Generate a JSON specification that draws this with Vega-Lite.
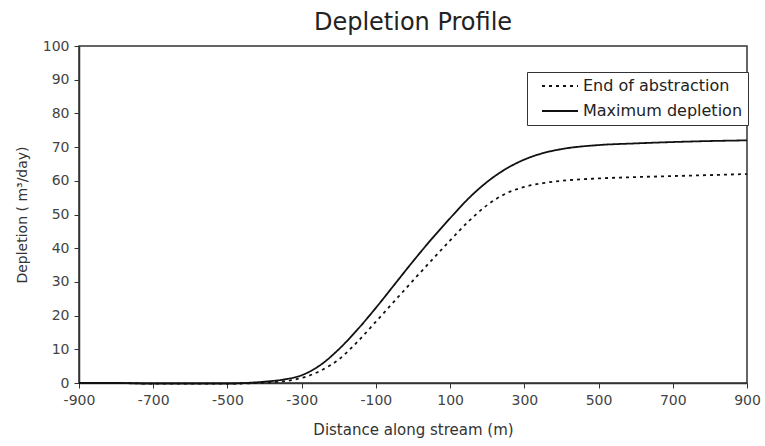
{
  "$schema": "https://vega.github.io/schema/vega-lite/v6.json",
  "autosize": {"type": "none"},
  "width": 668,
  "height": 337,
  "padding": {"left": 79, "top": 46, "right": 18, "bottom": 63},
  "background": "white",
  "config": {
    "font": "DejaVu Sans",
    "view": {"stroke": "#333", "strokeWidth": 1.5}
  },
  "title": {
    "text": "Depletion Profile",
    "font": "DejaVu Sans",
    "fontSize": 24,
    "fontWeight": "normal",
    "color": "#222",
    "anchor": "middle",
    "offset": 4
  },
  "data": {
    "values": [
      {"d": -900, "v": 0, "s": "Maximum depletion"},
      {"d": -800, "v": 0, "s": "Maximum depletion"},
      {"d": -700, "v": -0.2, "s": "Maximum depletion"},
      {"d": -600, "v": -0.2, "s": "Maximum depletion"},
      {"d": -500, "v": -0.2, "s": "Maximum depletion"},
      {"d": -450, "v": 0, "s": "Maximum depletion"},
      {"d": -400, "v": 0.4, "s": "Maximum depletion"},
      {"d": -350, "v": 1.0, "s": "Maximum depletion"},
      {"d": -300, "v": 2.3, "s": "Maximum depletion"},
      {"d": -250, "v": 5.3, "s": "Maximum depletion"},
      {"d": -200, "v": 10, "s": "Maximum depletion"},
      {"d": -150, "v": 15.8, "s": "Maximum depletion"},
      {"d": -100, "v": 22.3, "s": "Maximum depletion"},
      {"d": -50, "v": 29.2, "s": "Maximum depletion"},
      {"d": 0, "v": 36.1, "s": "Maximum depletion"},
      {"d": 50, "v": 42.7, "s": "Maximum depletion"},
      {"d": 100, "v": 48.9, "s": "Maximum depletion"},
      {"d": 150, "v": 54.8, "s": "Maximum depletion"},
      {"d": 200, "v": 59.7, "s": "Maximum depletion"},
      {"d": 250, "v": 63.5, "s": "Maximum depletion"},
      {"d": 300, "v": 66.3, "s": "Maximum depletion"},
      {"d": 350, "v": 68.2, "s": "Maximum depletion"},
      {"d": 400, "v": 69.4, "s": "Maximum depletion"},
      {"d": 500, "v": 70.6, "s": "Maximum depletion"},
      {"d": 600, "v": 71.1, "s": "Maximum depletion"},
      {"d": 700, "v": 71.5, "s": "Maximum depletion"},
      {"d": 800, "v": 71.8, "s": "Maximum depletion"},
      {"d": 900, "v": 72, "s": "Maximum depletion"},
      {"d": -900, "v": 0, "s": "End of abstraction"},
      {"d": -800, "v": 0, "s": "End of abstraction"},
      {"d": -700, "v": -0.2, "s": "End of abstraction"},
      {"d": -600, "v": -0.2, "s": "End of abstraction"},
      {"d": -500, "v": -0.2, "s": "End of abstraction"},
      {"d": -450, "v": -0.1, "s": "End of abstraction"},
      {"d": -400, "v": 0.1, "s": "End of abstraction"},
      {"d": -350, "v": 0.5, "s": "End of abstraction"},
      {"d": -300, "v": 1.5, "s": "End of abstraction"},
      {"d": -250, "v": 3.6, "s": "End of abstraction"},
      {"d": -200, "v": 7, "s": "End of abstraction"},
      {"d": -150, "v": 12.2, "s": "End of abstraction"},
      {"d": -100, "v": 18.2, "s": "End of abstraction"},
      {"d": -50, "v": 24.3, "s": "End of abstraction"},
      {"d": 0, "v": 30.4, "s": "End of abstraction"},
      {"d": 50, "v": 36.4, "s": "End of abstraction"},
      {"d": 100, "v": 42.3, "s": "End of abstraction"},
      {"d": 150, "v": 48, "s": "End of abstraction"},
      {"d": 200, "v": 52.8, "s": "End of abstraction"},
      {"d": 250, "v": 56.2, "s": "End of abstraction"},
      {"d": 300, "v": 58.2, "s": "End of abstraction"},
      {"d": 350, "v": 59.3, "s": "End of abstraction"},
      {"d": 400, "v": 60, "s": "End of abstraction"},
      {"d": 500, "v": 60.7, "s": "End of abstraction"},
      {"d": 600, "v": 61.1, "s": "End of abstraction"},
      {"d": 700, "v": 61.4, "s": "End of abstraction"},
      {"d": 800, "v": 61.7, "s": "End of abstraction"},
      {"d": 900, "v": 62, "s": "End of abstraction"}
    ]
  },
  "mark": {"type": "line", "color": "#111", "strokeWidth": 1.8, "interpolate": "monotone"},
  "encoding": {
    "x": {
      "field": "d",
      "type": "quantitative",
      "scale": {"domain": [-900, 900], "nice": false},
      "axis": {
        "values": [-900, -700, -500, -300, -100, 100, 300, 500, 700, 900],
        "labelExpr": "datum.value < 0 ? '-' + abs(datum.value) : '' + datum.value",
        "title": "Distance along stream (m)",
        "titleFont": "DejaVu Sans",
        "titleFontSize": 15,
        "titleFontWeight": "normal",
        "titleColor": "#333",
        "titlePadding": 15,
        "labelFont": "DejaVu Sans",
        "labelFontSize": 14,
        "labelColor": "#444",
        "labelPadding": 5,
        "grid": false,
        "domainColor": "#333",
        "domainWidth": 1.5,
        "tickColor": "#333",
        "tickSize": 5,
        "labelFlush": false
      }
    },
    "y": {
      "field": "v",
      "type": "quantitative",
      "scale": {"domain": [0, 100], "nice": false},
      "axis": {
        "values": [0, 10, 20, 30, 40, 50, 60, 70, 80, 90, 100],
        "title": "Depletion ( m³/day)",
        "titleFont": "DejaVu Sans",
        "titleFontSize": 14,
        "titleFontWeight": "normal",
        "titleColor": "#333",
        "titlePadding": 13,
        "labelFont": "DejaVu Sans",
        "labelFontSize": 14,
        "labelColor": "#444",
        "labelPadding": 5,
        "grid": false,
        "domainColor": "#333",
        "domainWidth": 1.5,
        "tickColor": "#333",
        "tickSize": 5
      }
    },
    "strokeDash": {
      "field": "s",
      "type": "nominal",
      "scale": {
        "domain": ["End of abstraction", "Maximum depletion"],
        "range": [[3, 4], [1, 0]]
      },
      "legend": {
        "title": null,
        "orient": "none",
        "legendX": 448,
        "legendY": 26,
        "symbolType": "stroke",
        "symbolSize": 1296,
        "symbolOffset": 9,
        "clipHeight": 18,
        "symbolStrokeWidth": 1.8,
        "symbolStrokeColor": "#111",
        "labelFont": "DejaVu Sans",
        "labelFontSize": 16,
        "labelColor": "#222",
        "labelOffset": 4,
        "rowPadding": 7,
        "strokeColor": "#333",
        "padding": 5,
        "fillColor": "white"
      }
    }
  }
}
